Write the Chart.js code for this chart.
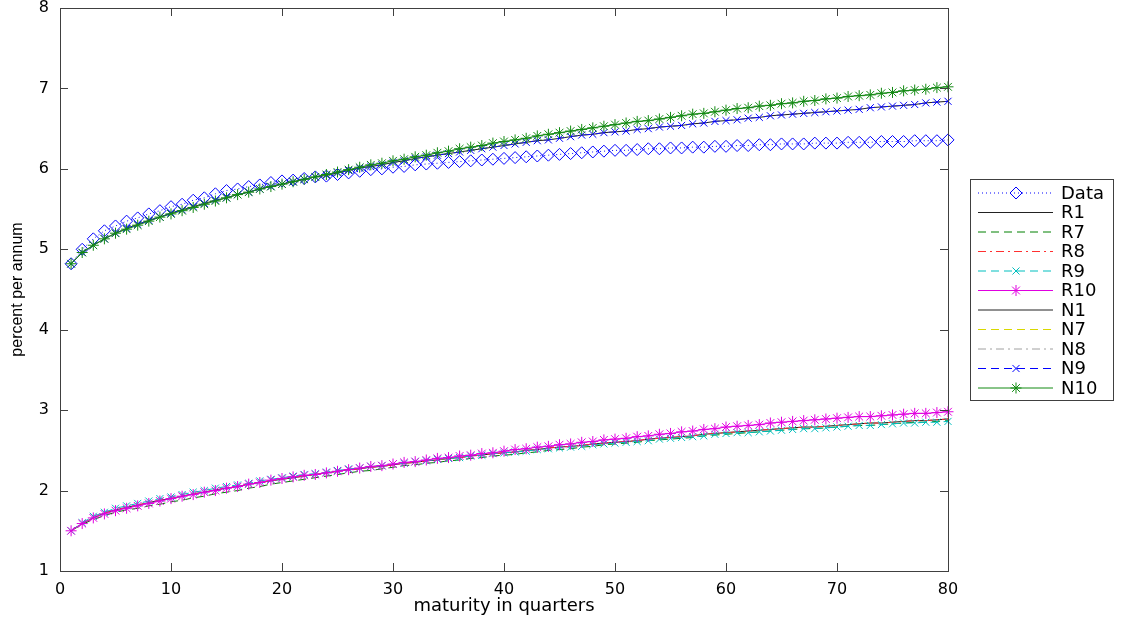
<!DOCTYPE html>
<html>
<head>
<meta charset="utf-8">
<script src="https://cdn.jsdelivr.net/npm/chart.js@4/dist/chart.umd.min.js"></script>
<style>
  body { margin: 0; background: #fff; }
  #caixa { width: 1127px; height: 625px; }
</style>
</head>
<body>
<div id="caixa"><canvas id="grafico" width="1127" height="625"></canvas></div>
<script>
// maturidades (trimestres)
const trimestres = [1,2,3,4,5,6,7,8,9,10,11,12,13,14,15,16,17,18,19,20,
  21,22,23,24,25,26,27,28,29,30,31,32,33,34,35,36,37,38,39,40,
  41,42,43,44,45,46,47,48,49,50,51,52,53,54,55,56,57,58,59,60,
  61,62,63,64,65,66,67,68,69,70,71,72,73,74,75,76,77,78,79,80]

const dadosObs = [4.82,5.00,5.13,5.23,5.29,5.35,5.39,5.44,5.48,5.53,
  5.56,5.61,5.64,5.69,5.73,5.75,5.78,5.80,5.83,5.85,
  5.86,5.88,5.90,5.91,5.93,5.95,5.97,5.99,6.00,6.02,
  6.03,6.05,6.06,6.07,6.08,6.09,6.10,6.11,6.12,6.13,
  6.14,6.15,6.16,6.17,6.18,6.19,6.20,6.21,6.22,6.23,
  6.23,6.24,6.25,6.25,6.26,6.26,6.27,6.27,6.28,6.28,
  6.29,6.29,6.30,6.30,6.31,6.31,6.31,6.32,6.32,6.32,
  6.33,6.33,6.33,6.34,6.34,6.34,6.35,6.35,6.35,6.36]

// curvas reais
const r1 = [1.50,1.59,1.66,1.72,1.76,1.79,1.82,1.85,1.88,1.90,
  1.93,1.96,1.98,2.01,2.03,2.05,2.08,2.10,2.12,2.14,
  2.16,2.18,2.20,2.22,2.24,2.26,2.27,2.29,2.30,2.32,
  2.34,2.35,2.37,2.38,2.40,2.41,2.43,2.44,2.46,2.47,
  2.48,2.50,2.51,2.53,2.54,2.55,2.56,2.58,2.59,2.60,
  2.61,2.62,2.64,2.65,2.66,2.67,2.68,2.70,2.71,2.72,
  2.73,2.74,2.75,2.76,2.77,2.78,2.79,2.79,2.80,2.81,
  2.82,2.83,2.84,2.84,2.85,2.86,2.87,2.87,2.88,2.89]

const r7 = [1.50,1.58,1.64,1.69,1.73,1.76,1.78,1.81,1.83,1.86,
  1.88,1.91,1.93,1.96,1.98,2.00,2.03,2.05,2.08,2.10,
  2.12,2.14,2.16,2.18,2.20,2.22,2.24,2.25,2.27,2.29,
  2.31,2.32,2.34,2.35,2.37,2.38,2.40,2.41,2.43,2.44,
  2.45,2.47,2.48,2.50,2.51,2.52,2.54,2.55,2.57,2.58,
  2.59,2.60,2.62,2.63,2.64,2.65,2.66,2.68,2.69,2.70,
  2.71,2.72,2.73,2.74,2.75,2.76,2.77,2.77,2.78,2.79,
  2.80,2.81,2.81,2.82,2.83,2.84,2.85,2.85,2.86,2.87]

const r8 = r1

const r9 = [1.50,1.60,1.68,1.73,1.78,1.81,1.84,1.87,1.90,1.92,
  1.95,1.98,2.00,2.03,2.05,2.07,2.09,2.12,2.14,2.16,
  2.18,2.20,2.21,2.23,2.25,2.27,2.28,2.30,2.31,2.33,
  2.34,2.36,2.37,2.39,2.40,2.41,2.43,2.44,2.46,2.47,
  2.48,2.49,2.51,2.52,2.53,2.54,2.55,2.57,2.58,2.59,
  2.60,2.61,2.62,2.64,2.65,2.66,2.67,2.68,2.70,2.71,
  2.72,2.72,2.73,2.74,2.75,2.76,2.77,2.77,2.78,2.79,
  2.80,2.81,2.81,2.82,2.83,2.84,2.84,2.85,2.85,2.86]

const r10 = [1.50,1.59,1.66,1.71,1.75,1.78,1.81,1.84,1.87,1.90,
  1.93,1.95,1.98,2.00,2.03,2.05,2.08,2.10,2.13,2.15,
  2.17,2.19,2.20,2.22,2.24,2.26,2.28,2.30,2.31,2.33,
  2.35,2.36,2.38,2.40,2.41,2.43,2.44,2.46,2.47,2.49,
  2.51,2.52,2.54,2.55,2.57,2.58,2.60,2.61,2.63,2.64,
  2.65,2.67,2.68,2.70,2.71,2.73,2.74,2.76,2.77,2.79,
  2.80,2.81,2.82,2.84,2.85,2.86,2.87,2.88,2.89,2.90,
  2.91,2.92,2.92,2.93,2.94,2.95,2.96,2.96,2.97,2.98]

// curvas nominais
const n9 = [4.82,4.96,5.05,5.13,5.20,5.26,5.31,5.36,5.40,5.45,
  5.49,5.53,5.57,5.61,5.64,5.68,5.71,5.75,5.78,5.81,
  5.84,5.87,5.90,5.92,5.95,5.98,6.01,6.03,6.05,6.08,
  6.10,6.13,6.15,6.17,6.19,6.21,6.23,6.25,6.27,6.29,
  6.31,6.33,6.35,6.36,6.38,6.40,6.42,6.43,6.45,6.46,
  6.47,6.49,6.50,6.52,6.53,6.54,6.56,6.57,6.59,6.60,
  6.61,6.63,6.64,6.66,6.67,6.68,6.69,6.70,6.71,6.72,
  6.73,6.74,6.76,6.77,6.78,6.79,6.80,6.82,6.83,6.84]

const n10 = [4.82,4.96,5.05,5.13,5.20,5.25,5.30,5.35,5.40,5.44,
  5.48,5.52,5.56,5.60,5.64,5.68,5.71,5.75,5.78,5.81,
  5.84,5.87,5.90,5.93,5.96,5.99,6.02,6.05,6.07,6.10,
  6.12,6.15,6.17,6.20,6.22,6.25,6.27,6.29,6.32,6.34,
  6.36,6.38,6.41,6.43,6.45,6.47,6.49,6.51,6.53,6.55,
  6.57,6.59,6.60,6.62,6.64,6.66,6.68,6.69,6.71,6.73,
  6.75,6.76,6.78,6.79,6.81,6.82,6.84,6.85,6.87,6.88,
  6.90,6.91,6.92,6.94,6.95,6.97,6.98,6.99,7.01,7.02]

// N1, N7 e N8 ficam por baixo de N9/N10 no original
const n1 = n9
const n7 = n9
const n8 = n10

const xTicks = [0,10,20,30,40,50,60,70,80]
const yTicks = [1,2,3,4,5,6,7,8]

function pontos(valores) {
  return valores.map((v, i) => ({x: trimestres[i], y: v}))
}

function serie(label, valores, cor, tracejado, marcador, raio) {
  return {
    label: label,
    data: pontos(valores),
    borderColor: cor,
    backgroundColor: 'rgba(0,0,0,0)',
    borderWidth: 1,
    borderDash: tracejado,
    pointStyle: marcador || false,
    pointRadius: marcador ? raio : 0,
    pointBorderWidth: 1,
    pointBorderColor: cor,
    pointBackgroundColor: 'rgba(0,0,0,0)',
    tension: 0,
    clip: false
  }
}

const series = [
  serie('Data', dadosObs, '#0000ff', [1, 3], 'rectRot', 6),
  serie('R1', r1, '#222222', []),
  serie('R7', r7, '#008000', [8, 5]),
  serie('R8', r8, '#ff3030', [8, 4, 2, 4]),
  serie('R9', r9, '#00bfbf', [8, 5], 'crossRot', 5),
  serie('R10', r10, '#e000e0', [], 'star', 5.5),
  serie('N1', n1, '#222222', []),
  serie('N7', n7, '#d8d800', [8, 5]),
  serie('N8', n8, '#a0a0a0', [8, 4, 2, 4]),
  serie('N9', n9, '#0000ff', [8, 5], 'crossRot', 5),
  serie('N10', n10, '#128a12', [], 'star', 5.5)
]
// como no matlab, a ultima serie fica por cima
series.forEach((s, i) => { s.order = series.length - i })

const corEixo = '#404040'

// caixa do eixo com marcas para dentro
const moldura = {
  id: 'moldura',
  afterDraw(chart) {
    const ctx = chart.ctx
    const a = chart.chartArea
    const sx = chart.scales.x, sy = chart.scales.y
    ctx.save()
    ctx.strokeStyle = corEixo
    ctx.lineWidth = 1
    ctx.setLineDash([])
    ctx.strokeRect(a.left + 0.5, a.top + 0.5, a.right - a.left, a.bottom - a.top)
    ctx.beginPath()
    xTicks.forEach(t => {
      const px = Math.round(sx.getPixelForValue(t)) + 0.5
      ctx.moveTo(px, a.bottom); ctx.lineTo(px, a.bottom - 8)
      ctx.moveTo(px, a.top); ctx.lineTo(px, a.top + 8)
    })
    yTicks.forEach(t => {
      const py = Math.round(sy.getPixelForValue(t)) + 0.5
      ctx.moveTo(a.left, py); ctx.lineTo(a.left + 8, py)
      ctx.moveTo(a.right, py); ctx.lineTo(a.right - 8, py)
    })
    ctx.stroke()
    ctx.restore()
  }
}

// legenda no estilo matlab (linha + marcador + texto)
const legenda = {
  id: 'legenda',
  afterDraw(chart) {
    const ctx = chart.ctx
    const x0 = 970, y0 = 179, w = 143, h = 221
    ctx.save()
    ctx.fillStyle = '#fff'
    ctx.fillRect(x0, y0, w, h)
    ctx.strokeStyle = corEixo
    ctx.lineWidth = 1
    ctx.strokeRect(x0 + 0.5, y0 + 0.5, w, h)
    chart.data.datasets.forEach((ds, i) => {
      const yy = 193 + i * 19.5
      ctx.strokeStyle = ds.borderColor
      ctx.lineWidth = ds.borderWidth
      ctx.setLineDash(ds.borderDash)
      ctx.beginPath()
      ctx.moveTo(978, yy)
      ctx.lineTo(1053, yy)
      ctx.stroke()
      ctx.setLineDash([])
      if (ds.pointStyle) {
        ctx.fillStyle = 'rgba(0,0,0,0)'
        Chart.helpers.drawPoint(ctx, {pointStyle: ds.pointStyle, radius: ds.pointRadius, borderWidth: 1, rotation: 0}, 1016, yy)
      }
      ctx.fillStyle = '#000'
      ctx.font = '18px "DejaVu Sans"'
      ctx.textBaseline = 'middle'
      ctx.textAlign = 'left'
      ctx.fillText(ds.label, 1061, yy + 1)
    })
    ctx.restore()
  }
}

Chart.defaults.font.family = '"DejaVu Sans", sans-serif'
Chart.defaults.color = '#000'

const grafico = new Chart(document.getElementById('grafico'), {
  type: 'line',
  data: { datasets: series },
  options: {
    responsive: false,
    animation: false,
    events: [],
    layout: { padding: { left: 0, right: 179, top: 0, bottom: 0 } },
    plugins: { legend: { display: false }, tooltip: { enabled: false } },
    scales: {
      x: {
        type: 'linear',
        min: 0, max: 80,
        afterBuildTicks: s => { s.ticks = xTicks.map(v => ({value: v})) },
        afterFit: s => { s.height = 54 },
        grid: { display: false },
        border: { display: false },
        ticks: { font: { size: 16 }, padding: 1, maxRotation: 0, autoSkip: false },
        title: { display: true, text: 'maturity in quarters', font: { size: 18 }, padding: { top: 0, bottom: 8 } }
      },
      y: {
        min: 1, max: 8,
        afterBuildTicks: s => { s.ticks = yTicks.map(v => ({value: v})) },
        afterFit: s => { s.width = 60; s.paddingTop = 8 },
        grid: { display: false },
        border: { display: false },
        ticks: { font: { size: 16 }, padding: 3 },
        title: { display: true, text: 'percent per annum', font: { family: '"Liberation Sans"', size: 16 }, padding: { top: 8, bottom: 0 } }
      }
    }
  },
  plugins: [moldura, legenda]
})
</script>
</body>
</html>
